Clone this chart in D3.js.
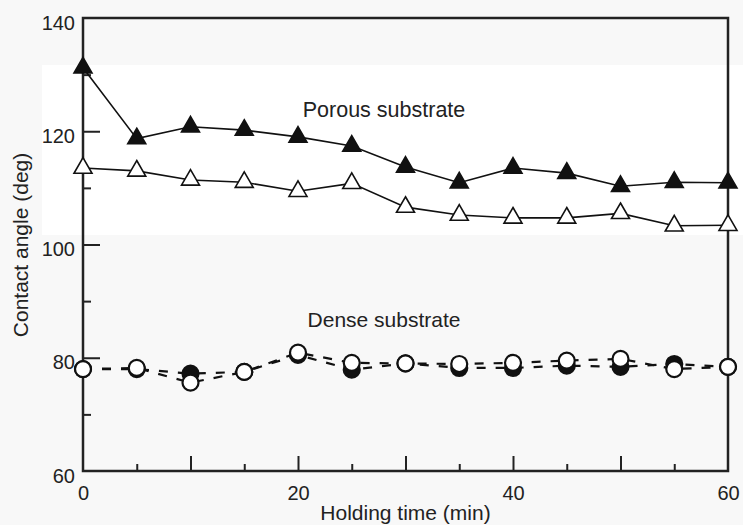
<!DOCTYPE html>
<html>
<head>
<meta charset="utf-8">
<script src="https://cdn.jsdelivr.net/npm/d3@7"></script>
<style>
  html, body { margin: 0; padding: 0; background: #f8f8f8; }
  svg { display: block; font-family: "Liberation Sans", Arial, sans-serif; }
</style>
</head>
<body>
<div class="chart"></div>
<script>
// chart size matches the window
const svgWidth = 743;
const svgHeight = 525;

const margin = { top: 18, right: 15, bottom: 54, left: 83 };
const width = svgWidth - margin.left - margin.right;
const height = svgHeight - margin.top - margin.bottom;

// data
const holdingTime = [0, 5, 10, 15, 20, 25, 30, 35, 40, 45, 50, 55, 60];
const porousFilled = [131.2, 118.7, 120.8, 120.2, 119.0, 117.4, 113.7, 110.9, 113.5, 112.6, 110.3, 111.0, 110.9];
const porousOpen = [113.5, 113.0, 111.4, 111.0, 109.4, 110.8, 106.6, 105.2, 104.7, 104.7, 105.5, 103.3, 103.4];
const denseFilled = [78.0, 78.0, 77.2, 77.5, 80.5, 77.9, 79.0, 78.2, 78.2, 78.6, 78.4, 78.9, 78.4];
const denseOpen = [78.0, 78.2, 75.6, 77.5, 80.9, 79.1, 79.0, 78.9, 79.1, 79.5, 79.8, 78.0, 78.4];
const xTickLabels = [0, 20, 40, 60];
const yTickLabels = [60, 80, 100, 120, 140];

const svg = d3.select(".chart")
  .append("svg")
  .attr("width", svgWidth)
  .attr("height", svgHeight);

// the scanned page has a whiter patch in the middle
svg.append("rect")
  .attr("x", 42).attr("y", 65)
  .attr("width", svgWidth - 42).attr("height", 170)
  .attr("fill", "#ffffff");

const chartGroup = svg.append("g")
  .attr("transform", `translate(${margin.left}, ${margin.top})`);

// scales
const xScale = d3.scaleLinear().domain([0, 60]).range([0, width]);
const yScale = d3.scaleLinear().domain([60, 140]).range([height, 0]);

// minor ticks, pointing inward
chartGroup.append("g")
  .attr("transform", `translate(0, ${height})`)
  .call(d3.axisBottom(xScale).tickValues(d3.range(5, 60, 10)).tickSize(-7).tickFormat(""))
  .call(g => g.select(".domain").remove());
chartGroup.append("g")
  .call(d3.axisLeft(yScale).tickValues(d3.range(70, 140, 20)).tickSize(-8).tickFormat(""))
  .call(g => g.select(".domain").remove());

// major ticks
chartGroup.append("g")
  .attr("transform", `translate(0, ${height})`)
  .call(d3.axisBottom(xScale).tickValues(d3.range(10, 60, 10)).tickSize(-15).tickFormat(""))
  .call(g => g.select(".domain").remove());
chartGroup.append("g")
  .call(d3.axisLeft(yScale).tickValues(d3.range(80, 140, 20)).tickSize(-17).tickFormat(""))
  .call(g => g.select(".domain").remove());

chartGroup.selectAll(".tick line")
  .attr("stroke", "#222")
  .attr("stroke-width", 2);

// tick labels
chartGroup.append("g")
  .attr("transform", `translate(0, ${height})`)
  .call(d3.axisBottom(xScale).tickValues(xTickLabels).tickSize(0).tickPadding(15))
  .call(g => g.select(".domain").remove())
  .call(g => g.selectAll("text")
    .attr("font-size", 20)
    .attr("font-family", "Liberation Sans, Arial, sans-serif")
    .attr("fill", "#222"));

chartGroup.append("g")
  .call(d3.axisLeft(yScale).tickValues(yTickLabels).tickSize(0).tickPadding(8))
  .call(g => g.select(".domain").remove())
  .call(g => g.selectAll("text")
    .attr("font-size", 20)
    .attr("dy", "0.55em")
    .attr("font-family", "Liberation Sans, Arial, sans-serif")
    .attr("fill", "#222"));

// frame
chartGroup.append("rect")
  .attr("width", width)
  .attr("height", height)
  .attr("fill", "none")
  .attr("stroke", "#222")
  .attr("stroke-width", 2.5);

// axis titles
chartGroup.append("text")
  .attr("x", width / 2)
  .attr("y", height + 49)
  .attr("text-anchor", "middle")
  .attr("font-size", 21)
  .attr("fill", "#222")
  .text("Holding time (min)");

svg.append("text")
  .attr("transform", `translate(28, 245) rotate(-90)`)
  .attr("text-anchor", "middle")
  .attr("font-size", 21)
  .attr("fill", "#222")
  .text("Contact angle (deg)");

// series labels
chartGroup.append("text")
  .attr("x", xScale(28))
  .attr("y", yScale(122.5))
  .attr("text-anchor", "middle")
  .attr("font-size", 21.5)
  .attr("fill", "#222")
  .text("Porous substrate");

chartGroup.append("text")
  .attr("x", xScale(28))
  .attr("y", yScale(85.4))
  .attr("text-anchor", "middle")
  .attr("font-size", 21)
  .attr("fill", "#222")
  .text("Dense substrate");

// line generator
const line = d3.line()
  .x((d, i) => xScale(holdingTime[i]))
  .y(d => yScale(d));

function drawSeries(values, opts) {
  chartGroup.append("path")
    .attr("d", line(values))
    .attr("fill", "none")
    .attr("stroke", "#111")
    .attr("stroke-width", opts.dashed ? 2.2 : 1.6)
    .attr("stroke-dasharray", opts.dashed ? "9,10" : null);

  const marks = chartGroup.append("g").selectAll("path")
    .data(values)
    .enter();

  if (opts.shape === "triangle") {
    marks.append("path")
      .attr("d", d3.symbol().type(d3.symbolTriangle).size(140))
      .attr("transform", (d, i) => `translate(${xScale(holdingTime[i])}, ${yScale(d)})`)
      .attr("fill", opts.filled ? "#111" : "#fff")
      .attr("stroke", "#111")
      .attr("stroke-width", 1.6);
  } else {
    marks.append("circle")
      .attr("cx", (d, i) => xScale(holdingTime[i]))
      .attr("cy", d => yScale(d))
      .attr("r", 8)
      .attr("fill", opts.filled ? "#111" : "#fff")
      .attr("stroke", "#111")
      .attr("stroke-width", 2.2);
  }
}

drawSeries(porousFilled, { shape: "triangle", filled: true });
drawSeries(porousOpen, { shape: "triangle", filled: false });
drawSeries(denseFilled, { shape: "circle", filled: true, dashed: true });
drawSeries(denseOpen, { shape: "circle", filled: false, dashed: true });
</script>
</body>
</html>
